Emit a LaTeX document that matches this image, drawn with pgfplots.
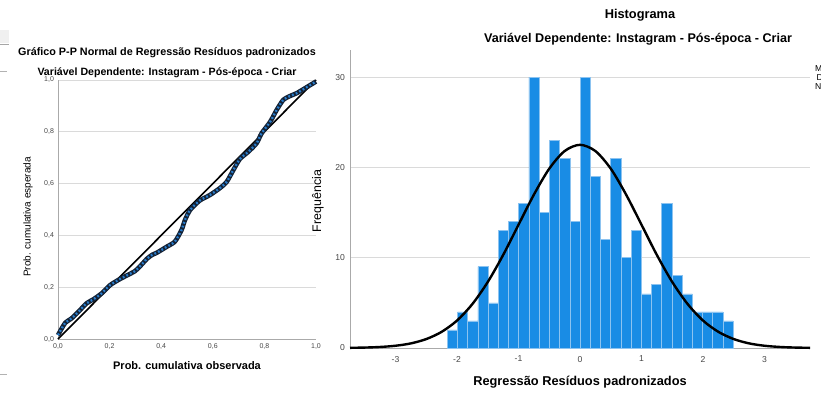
\documentclass[border=0pt]{standalone}
\usepackage{pgfplots}
\pgfplotsset{compat=1.18}
\usepackage{fontspec}
\setmainfont{Liberation Sans}
\definecolor{barblue}{RGB}{25,140,229}
\definecolor{baredge}{RGB}{140,195,240}
\definecolor{ppblue}{RGB}{40,125,205}
\definecolor{ppdark}{RGB}{20,35,55}
\definecolor{gridgray}{RGB}{218,218,218}
\definecolor{axgray}{RGB}{170,170,170}
\definecolor{tickgray}{RGB}{70,70,70}
\begin{document}
\begin{tikzpicture}[x=1pt,y=1pt]
\useasboundingbox (0,0) rectangle (821,392);
% screenshot artifacts at left edge
\fill[gray!12] (0,349) rectangle (9,362);
\draw[gray!70,line width=0.8pt] (0,348) -- (9,348);
\draw[gray!60,line width=0.8pt] (0,321) -- (7,321);
\draw[gray!60,line width=0.8pt] (0,18) -- (7,18);
% ---------------- P-P plot ----------------
\begin{axis}[
  at={(58pt,53pt)}, anchor=south west,
  width=258pt, height=259pt, scale only axis,
  xmin=0, xmax=1, ymin=0, ymax=1,
  axis x line*=bottom, axis y line*=left,
  axis line style={axgray, line width=0.9pt, -},
  xtick={0,0.2,0.4,0.6,0.8,1}, ytick={0,0.2,0.4,0.6,0.8,1},
  xticklabels={{0,0},{0,2},{0,4},{0,6},{0,8},{1,0}},
  yticklabels={{0,0},{0,2},{0,4},{0,6},{0,8},{1,0}},
  major tick length=0pt,
  ymajorgrids, grid style={gridgray, line width=0.9pt},
  tick label style={font=\fontsize{7}{7.5}\selectfont, text=tickgray},
  xticklabel style={yshift=-1.5pt},
  yticklabel style={xshift=-0.5pt},
  clip=false,
]
\addplot[black, line width=1.6pt] coordinates {(0,0) (1,1)};
\addplot[ppdark, line width=4.6pt, smooth, tension=0.4] coordinates {
(0.000,0.015) (0.027,0.061) (0.053,0.080) (0.079,0.105) (0.111,0.138)
(0.137,0.153) (0.169,0.176) (0.202,0.208) (0.234,0.228) (0.266,0.245)
(0.298,0.262) (0.322,0.285) (0.345,0.310) (0.365,0.325) (0.383,0.333)
(0.421,0.356) (0.453,0.376) (0.479,0.421) (0.492,0.459) (0.512,0.498)
(0.550,0.535) (0.589,0.556) (0.628,0.583) (0.654,0.607) (0.680,0.653)
(0.705,0.695) (0.738,0.723) (0.770,0.756) (0.789,0.794) (0.822,0.838)
(0.848,0.885) (0.873,0.923) (0.899,0.938) (0.925,0.949) (0.957,0.968)
(1.000,0.994)};
\addplot[ppblue, line width=2.3pt, smooth, tension=0.4, dash pattern=on 1.8pt off 2.2pt] coordinates {
(0.000,0.015) (0.027,0.061) (0.053,0.080) (0.079,0.105) (0.111,0.138)
(0.137,0.153) (0.169,0.176) (0.202,0.208) (0.234,0.228) (0.266,0.245)
(0.298,0.262) (0.322,0.285) (0.345,0.310) (0.365,0.325) (0.383,0.333)
(0.421,0.356) (0.453,0.376) (0.479,0.421) (0.492,0.459) (0.512,0.498)
(0.550,0.535) (0.589,0.556) (0.628,0.583) (0.654,0.607) (0.680,0.653)
(0.705,0.695) (0.738,0.723) (0.770,0.756) (0.789,0.794) (0.822,0.838)
(0.848,0.885) (0.873,0.923) (0.899,0.938) (0.925,0.949) (0.957,0.968)
(1.000,0.994)};
\end{axis}
% ---------------- Histogram ----------------
\begin{axis}[
  at={(350pt,44pt)}, anchor=south west,
  width=460pt, height=298pt, scale only axis,
  xmin=-3.74, xmax=3.74, ymin=0, ymax=33,
  axis x line*=bottom, axis y line*=left,
  axis line style={axgray, line width=0.9pt, -},
  xtick={-3,-2,-1,0,1,2,3}, xticklabels={-3,-2,-1,0,1,2,3},
  ytick={0,10,20,30}, yticklabels={0,10,20,30},
  major tick length=0pt,
  ymajorgrids, grid style={gridgray, line width=0.9pt},
  tick label style={font=\fontsize{8.6}{9}\selectfont, text=tickgray},
  xticklabel style={yshift=-4.5pt},
  yticklabel style={xshift=-1.5pt},
  clip=false,
]
\addplot[ybar interval, fill=barblue, draw=baredge, line width=0.6pt] coordinates {
(-2.158,2) (-1.992,4) (-1.826,3) (-1.660,9) (-1.494,5) (-1.328,13) (-1.162,14)
(-0.996,16) (-0.830,30) (-0.664,15) (-0.498,23) (-0.332,21) (-0.166,14)
(0.000,30) (0.166,19) (0.332,12) (0.498,21) (0.664,10) (0.830,13) (0.996,6)
(1.162,7) (1.328,16) (1.494,8) (1.660,6) (1.826,4) (1.992,4) (2.158,4) (2.324,3)
(2.490,3)};
\addplot[black, line width=2.4pt, smooth] coordinates {
(-3.74,0.021) (-3.5,0.049) (-3.25,0.115) (-3,0.25) (-2.75,0.51) (-2.5,0.99)
(-2.25,1.79) (-2,3.04) (-1.75,4.87) (-1.5,7.31) (-1.25,10.30) (-1,13.65)
(-0.75,16.98) (-0.5,19.86) (-0.25,21.81) (0,22.5) (0.25,21.81) (0.5,19.86)
(0.75,16.98) (1,13.65) (1.25,10.30) (1.5,7.31) (1.75,4.87) (2,3.04)
(2.25,1.79) (2.5,0.99) (2.75,0.51) (3,0.25) (3.25,0.115) (3.5,0.049) (3.74,0.021)};
\end{axis}
% ---------------- texts ----------------
\node[font=\bfseries\fontsize{10.8}{12}\selectfont] at (167,339.5) {Gráfico P-P Normal de Regressão Resíduos padronizados};
\node[font=\bfseries\fontsize{10.6}{12}\selectfont] at (167,319) {Variável Dependente: Instagram - Pós-época - Criar};
\node[font=\fontsize{10}{11}\selectfont, rotate=90] at (28,175) {Prob. cumulativa esperada};
\node[font=\bfseries\fontsize{11}{12}\selectfont] at (187,26) {Prob. cumulativa observada};
\node[font=\bfseries\fontsize{12.8}{14}\selectfont] at (640,377) {Histograma};
\node[font=\bfseries\fontsize{12.6}{14}\selectfont] at (638,353) {Variável Dependente: Instagram - Pós-época - Criar};
\node[font=\fontsize{12.4}{14}\selectfont, rotate=90] at (318,191) {Frequência};
\node[font=\bfseries\fontsize{12.8}{14}\selectfont] at (580,10) {Regressão Resíduos padronizados};
\node[font=\fontsize{8.6}{9.2}\selectfont, anchor=north west, align=left, inner sep=0pt] at (815,327) {Média = 1,01E-15\\\,Desvio Padrão = 0,998\\N = 332};
\end{tikzpicture}
\end{document}
